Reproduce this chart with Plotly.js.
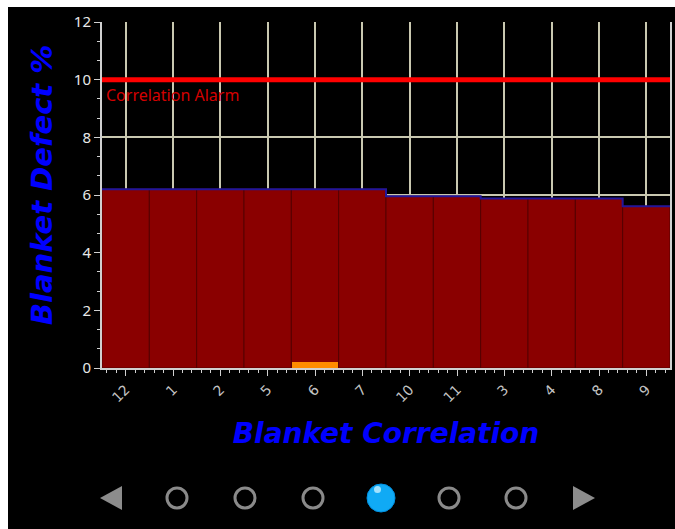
<!DOCTYPE html>
<html>
<head>
<meta charset="utf-8">
<script src="https://cdn.plot.ly/plotly-3.0.1.min.js"></script>
<style>
  html, body { margin: 0; padding: 0; background: #ffffff; width: 675px; height: 529px; overflow: hidden; }
  #chart { position: absolute; left: 8px; top: 7px; width: 667px; height: 522px; background: #000; }
</style>
</head>
<body>
<div id="chart"></div>
<script>
// ---- data ----
const categories = ["12", "1", "2", "5", "6", "7", "10", "11", "3", "4", "8", "9"];
const defectValues = [6.2, 6.2, 6.2, 6.2, 6.2, 6.2, 5.96, 5.96, 5.88, 5.88, 5.88, 5.61];
const highlightCategory = "6";
const highlightValue = 0.2;
const alarmLevel = 10;
const alarmLabel = "Correlation Alarm";
const xTitle = "Blanket Correlation";
const yTitle = "Blanket Defect %";

// ---- derived ----
const idx = categories.map((c, i) => i);
const stepX = [], stepY = [];
defectValues.forEach((v, i) => { stepX.push(i - 0.5, i + 0.5); stepY.push(v, v); });
const hiIdx = categories.indexOf(highlightCategory);

const traces = [
  {
    type: "bar", x: idx, y: defectValues, width: 1,
    marker: { color: "#8a0000", line: { color: "#560000", width: 1 } },
    hoverinfo: "x+y", showlegend: false
  },
  {
    type: "bar", x: [hiIdx], y: [highlightValue], width: 0.96,
    marker: { color: "#ff8c00", line: { width: 0 } },
    showlegend: false
  },
  {
    type: "scatter", mode: "lines", x: stepX, y: stepY,
    line: { color: "#22169a", width: 2 }, showlegend: false, hoverinfo: "skip"
  },
  {
    type: "scatter", mode: "lines", x: [-0.5, categories.length - 0.5], y: [alarmLevel, alarmLevel],
    line: { color: "#ff0000", width: 5 }, showlegend: false, hoverinfo: "skip"
  }
];

// pager decoration (pixel -> paper)
const plotL = 94, plotW = 568, plotT = 15, plotH = 346;
const px = x => (x - 8 - plotL) / plotW;
const py = y => (plotH - (y - 7 - plotT)) / plotH;
const shapes = [];
const cy = 498;
[177, 245, 313, 449, 516].forEach(cx => {
  shapes.push({ type: "circle", xref: "paper", yref: "paper",
    x0: px(cx - 10), x1: px(cx + 10), y0: py(cy + 10), y1: py(cy - 10),
    line: { color: "#8a8a8a", width: 3 }, fillcolor: "rgba(0,0,0,0)" });
});
shapes.push({ type: "circle", xref: "paper", yref: "paper",
  x0: px(381 - 14), x1: px(381 + 14), y0: py(cy + 14), y1: py(cy - 14),
  line: { color: "#0090e0", width: 1 }, fillcolor: "#10aaf5" });
shapes.push({ type: "circle", xref: "paper", yref: "paper",
  x0: px(374), x1: px(381), y0: py(493), y1: py(486),
  line: { width: 0 }, fillcolor: "rgba(200,240,255,0.8)" });
shapes.push({ type: "path", xref: "paper", yref: "paper",
  path: `M ${px(100)} ${py(cy)} L ${px(122)} ${py(cy - 12)} L ${px(122)} ${py(cy + 12)} Z`,
  line: { width: 0 }, fillcolor: "#8c8c8c" });
shapes.push({ type: "path", xref: "paper", yref: "paper",
  path: `M ${px(595)} ${py(cy)} L ${px(573)} ${py(cy - 12)} L ${px(573)} ${py(cy + 12)} Z`,
  line: { width: 0 }, fillcolor: "#8c8c8c" });

const titleFont = { family: "DejaVu Sans, sans-serif", size: 28, color: "#0000ff", weight: "bold", style: "italic" };
const yTitleFont = Object.assign({}, titleFont, { size: 29 });

const layout = {
  width: 667, height: 522,
  margin: { l: plotL, r: 5, t: plotT, b: 161 },
  paper_bgcolor: "#000000", plot_bgcolor: "#000000",
  barmode: "overlay", bargap: 0,
  showlegend: false,
  font: { family: "Noto Sans, DejaVu Sans, sans-serif", color: "#d8d8d8" },
  xaxis: {
    range: [-0.5, categories.length - 0.5],
    tickmode: "array", tickvals: idx, ticktext: categories,
    tickangle: -45,
    tickfont: { size: 14, color: "#c4c4c4", family: "DejaVu Sans, sans-serif" },
    ticks: "outside", ticklen: 6, tickcolor: "#d0d0d0", tickwidth: 1,
    minor: { tickmode: "linear", tick0: 0, dtick: 0.2, ticks: "outside", ticklen: 3, tickcolor: "#d0d0d0", showgrid: false },
    showgrid: true, gridcolor: "#c9c8b0", gridwidth: 2,
    showline: true, linecolor: "#d0d0d0", linewidth: 2, mirror: false,
    zeroline: false,
    title: { text: xTitle, standoff: 19, font: titleFont }
  },
  yaxis: {
    range: [0, 12], dtick: 2, tick0: 0,
    tickfont: { size: 15, color: "#e8e8e8", family: "Noto Sans, sans-serif" },
    ticks: "outside", ticklen: 6, tickcolor: "#d0d0d0",
    minor: { tickmode: "linear", tick0: 0, dtick: 2/3, ticks: "outside", ticklen: 3, tickcolor: "#d0d0d0", showgrid: false },
    showgrid: true, gridcolor: "#c9c8b0", gridwidth: 2,
    showline: true, linecolor: "#d0d0d0", linewidth: 2, mirror: true,
    zeroline: false
  },
  shapes: shapes,
  annotations: [
    {
      xref: "x", yref: "y", x: -0.5, y: alarmLevel, xanchor: "left", yanchor: "top",
      xshift: 2, yshift: -2,
      text: alarmLabel, showarrow: false,
      font: { family: "Noto Sans, sans-serif", size: 16, color: "#d40000" }
    },
    {
      xref: "paper", yref: "paper", x: px(42), y: py(185), xanchor: "center", yanchor: "middle",
      textangle: -90, text: yTitle, showarrow: false, font: yTitleFont
    }
  ]
};

Plotly.newPlot("chart", traces, layout, { displayModeBar: false, staticPlot: true });
</script>
</body>
</html>
